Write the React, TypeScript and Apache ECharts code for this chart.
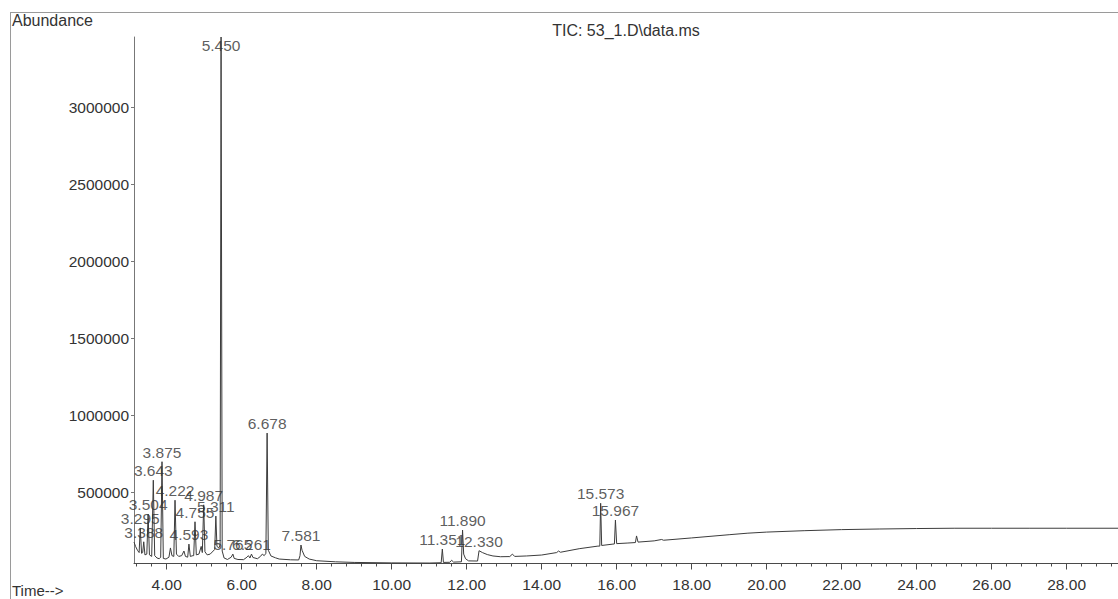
import React, { useEffect, useRef } from "react";
import * as echarts from "echarts";

const TITLE = "TIC: 53_1.D\\data.ms";
const Y_NAME = "Abundance";
const X_NAME = "Time-->";

const X_MIN = 3.128;
const X_MAX = 29.37;
const Y_MIN = 39000;
const Y_MAX = 3458000;

const xTickLabels = [4, 6, 8, 10, 12, 14, 16, 18, 20, 22, 24, 26, 28];
const yTickLabels = [500000, 1000000, 1500000, 2000000, 2500000, 3000000];

// labelled peaks (retention time, apex abundance)
const peakTimes = [
  3.295, 3.388, 3.504, 3.643, 3.875, 4.222, 4.593, 4.755, 4.987, 5.311, 5.45,
  5.765, 6.261, 6.678, 7.581, 11.351, 11.89, 12.33, 15.573, 15.967,
];
const peakHeights = [
  270000, 180000, 360000, 580000, 700000, 450000, 165000, 310000, 420000, 347000,
  3458000, 100000, 100000, 886000, 159000, 133000, 256000, 122000, 430000, 321000,
];

// trace between the labelled apexes
const traceTimes = [
  3.128, 3.17, 3.22, 3.265, 3.33, 3.36, 3.42, 3.47, 3.54, 3.6, 3.68, 3.74, 3.8,
  3.84, 3.91, 3.98, 4.06, 4.1, 4.14, 4.19, 4.26, 4.32, 4.4, 4.46, 4.5, 4.56,
  4.63, 4.7, 4.72, 4.79, 4.86, 4.92, 4.95, 5.02, 5.08, 5.16, 5.24, 5.28, 5.34,
  5.39, 5.425, 5.48, 5.53, 5.62, 5.72, 5.8, 5.9, 6.05, 6.14, 6.18, 6.22, 6.3,
  6.42, 6.5, 6.55, 6.6, 6.645, 6.71, 6.78, 6.9, 7.0, 7.3, 7.52, 7.555, 7.61,
  7.68, 7.8, 8.0, 8.5, 9.0, 10.0, 11.0, 11.32, 11.38, 11.55, 11.6, 11.65, 11.86,
  11.92, 11.97, 12.05, 12.29, 12.42, 12.55, 12.7, 12.9, 13.15, 13.22, 13.28,
  13.6, 14.0, 14.4, 14.45, 14.5, 15.0, 15.5, 15.55, 15.6, 15.9, 15.94, 16.0,
  16.3, 16.5, 16.53, 16.57, 17.0, 17.2, 17.25, 18.0, 19.0, 19.5, 20.0, 21.0,
  22.0, 23.0, 24.0, 25.0, 26.0, 27.0, 28.0, 29.37,
];
const traceValues = [
  178000, 150000, 125000, 110000, 105000, 110000, 95000, 100000, 95000, 85000,
  90000, 75000, 70000, 80000, 72000, 68000, 80000, 140000, 90000, 85000,
  100000, 85000, 90000, 120000, 85000, 80000, 85000, 90000, 90000, 95000,
  100000, 150000, 110000, 115000, 95000, 100000, 120000, 130000, 150000,
  140000, 160000, 120000, 75000, 65000, 80000, 72000, 65000, 64000, 80000,
  90000, 75000, 78000, 70000, 85000, 100000, 90000, 105000, 125000, 88000,
  76000, 68000, 63000, 62000, 90000, 125000, 85000, 68000, 57000, 50000,
  46000, 43000, 42000, 44000, 46000, 47000, 60000, 48000, 50000, 100000,
  70000, 56000, 55000, 110000, 97000, 88000, 83000, 84000, 100000, 85000,
  88000, 94000, 110000, 120000, 112000, 135000, 152000, 152000, 156000,
  165000, 166000, 168000, 172000, 175000, 218000, 178000, 186000, 195000,
  190000, 205000, 226000, 236000, 243000, 252000, 259000, 263000, 266000,
  268000, 268000, 268000, 268000, 268000,
];

const FONT = "'Liberation Sans', Arial, sans-serif";
const TEXT = "#333";
const LINE = "#4a4a4a";

export default function App() {
  const ref = useRef<HTMLDivElement>(null);

  useEffect(() => {
    if (!ref.current) return;
    const chart = echarts.init(ref.current, null, { renderer: "svg" });

    const trace: [number, number][] = [];
    traceTimes.forEach((t, i) => trace.push([t, traceValues[i]]));
    peakTimes.forEach((t, i) => trace.push([t, peakHeights[i]]));
    trace.sort((a, b) => a[0] - b[0]);

    const minorTicks: number[] = [];
    for (let k = 8; k * 0.4 <= X_MAX; k++) {
      const v = Math.round(k * 0.4 * 10) / 10;
      if (Math.abs(v / 2 - Math.round(v / 2)) > 1e-6) minorTicks.push(v);
    }

    const peakData = peakTimes.map((t, i) => {
      const atTop = peakHeights[i] >= Y_MAX;
      return {
        value: [t, peakHeights[i]],
        label: {
          position: atTop ? "bottom" : "top",
          distance: atTop ? 0 : 1,
        },
      };
    });

    chart.setOption({
      animation: false,
      backgroundColor: "#fff",
      grid: { left: 134, right: 0, top: 37, bottom: 35.5 },
      xAxis: [
        {
          type: "value",
          min: X_MIN,
          max: X_MAX,
          axisLine: { show: true, lineStyle: { color: LINE, width: 1 } },
          axisTick: {
            show: true,
            customValues: xTickLabels,
            length: 6,
            lineStyle: { color: LINE },
          },
          axisLabel: {
            customValues: xTickLabels,
            formatter: (v: number) => v.toFixed(2),
            margin: 12.5,
            fontSize: 15.5,
            fontFamily: FONT,
            color: TEXT,
          },
          splitLine: { show: false },
        },
        {
          type: "value",
          min: X_MIN,
          max: X_MAX,
          position: "bottom",
          axisLine: { show: false },
          axisTick: {
            show: true,
            customValues: minorTicks,
            length: 3,
            lineStyle: { color: LINE },
          },
          axisLabel: { show: false },
          splitLine: { show: false },
        },
      ],
      yAxis: {
        type: "value",
        min: Y_MIN,
        max: Y_MAX,
        axisLine: { show: true, lineStyle: { color: "#777", width: 1 } },
        axisTick: {
          show: true,
          customValues: yTickLabels,
          length: 3,
          lineStyle: { color: "#777" },
        },
        axisLabel: {
          customValues: yTickLabels,
          formatter: (v: number) => String(v),
          margin: 5,
          fontSize: 15.5,
          fontFamily: FONT,
          color: TEXT,
        },
        splitLine: { show: false },
      },
      series: [
        {
          type: "line",
          data: trace,
          showSymbol: false,
          lineStyle: { color: "#3c3c3c", width: 1 },
          z: 2,
        },
        {
          type: "scatter",
          data: peakData,
          symbolSize: 1,
          itemStyle: { color: "transparent" },
          label: {
            show: true,
            formatter: (p: any) => p.value[0].toFixed(3),
            fontSize: 15.5,
            fontFamily: FONT,
            color: TEXT,
          },
          z: 3,
        },
      ],
      graphic: [
        {
          type: "line",
          shape: { x1: 10, y1: 12.5, x2: 1118, y2: 12.5 },
          style: { stroke: "#9a9a9a", lineWidth: 1 },
        },
        {
          type: "line",
          shape: { x1: 10.5, y1: 12, x2: 10.5, y2: 599 },
          style: { stroke: "#9a9a9a", lineWidth: 1 },
        },
        {
          type: "text",
          x: 12,
          y: 20,
          style: {
            text: Y_NAME,
            fontSize: 16,
            fontFamily: FONT,
            fill: TEXT,
            textAlign: "left",
            textVerticalAlign: "middle",
          },
        },
        {
          type: "text",
          x: 626,
          y: 30,
          style: {
            text: TITLE,
            fontSize: 16,
            fontFamily: FONT,
            fill: TEXT,
            textAlign: "center",
            textVerticalAlign: "middle",
          },
        },
        {
          type: "text",
          x: 12,
          y: 590.5,
          style: {
            text: X_NAME,
            fontSize: 15,
            fontFamily: FONT,
            fill: TEXT,
            textAlign: "left",
            textVerticalAlign: "middle",
          },
        },
      ],
    });

    return () => chart.dispose();
  }, []);

  return (
    <div
      ref={ref}
      style={{
        position: "absolute",
        left: 0,
        top: 0,
        width: 1118,
        height: 599,
        background: "#fff",
      }}
    />
  );
}
